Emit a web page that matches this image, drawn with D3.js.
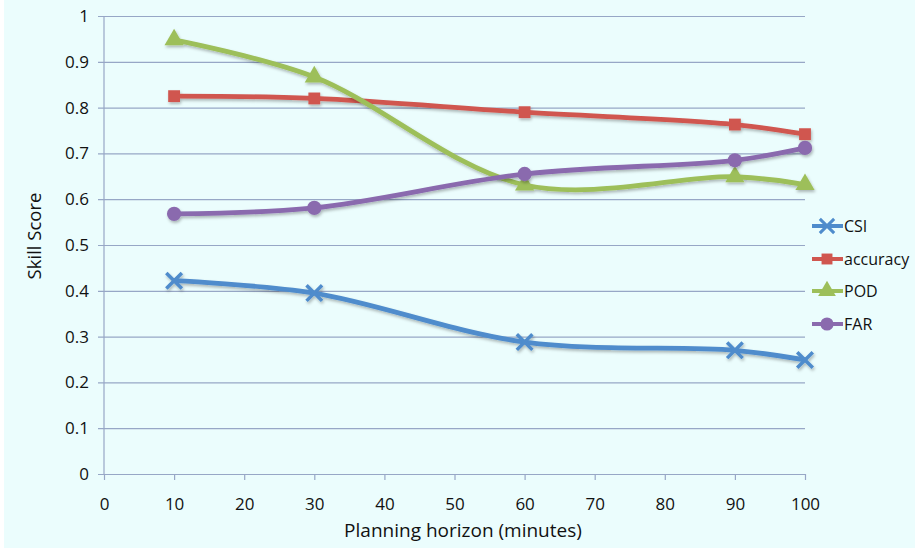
<!DOCTYPE html>
<html>
<head>
<meta charset="utf-8">
<script src="https://cdn.jsdelivr.net/npm/d3@7"></script>
<style>
  html, body { margin: 0; padding: 0; background: #ffffff; }
  svg { display: block; font-family: "Open Sans", Lato, sans-serif; }
</style>
</head>
<body>
<svg id="chart" width="915" height="548"></svg>
<script>
// Planning horizons (minutes) and skill scores per metric
const horizons = [10, 30, 60, 90, 100];
const csi      = [0.422, 0.395, 0.288, 0.270, 0.249];
const accuracy = [0.825, 0.820, 0.790, 0.763, 0.742];
const pod      = [0.948, 0.867, 0.631, 0.649, 0.632];
const far      = [0.568, 0.581, 0.655, 0.685, 0.712];

const xTicks = [0, 10, 20, 30, 40, 50, 60, 70, 80, 90, 100];
const yTicks = [0, 0.1, 0.2, 0.3, 0.4, 0.5, 0.6, 0.7, 0.8, 0.9, 1];

const seriesNames  = ["CSI", "accuracy", "POD", "FAR"];
const seriesValues = [csi, accuracy, pod, far];
const seriesColors = ["#4f8ccc", "#d0564f", "#9dbf5a", "#8a6aae"];
const seriesSymbols = [d3.symbolX, d3.symbolSquare, d3.symbolTriangle, d3.symbolCircle];

const svg = d3.select("#chart");
const W = 915, H = 548;

svg.append("rect").attr("x", 4).attr("y", 0).attr("width", W - 4).attr("height", H)
  .attr("fill", "#ebfdfd");

const plotL = 104, plotR = 805, plotT = 16, plotB = 474;
const x = d3.scaleLinear().domain([0, 100]).range([plotL, plotR]);
const y = d3.scaleLinear().domain([0, 1]).range([plotB, plotT]);

const defs = svg.append("defs");
const f = defs.append("filter").attr("id", "shadow")
  .attr("x", "-10%").attr("y", "-10%").attr("width", "120%").attr("height", "130%");
f.append("feDropShadow").attr("dx", 1).attr("dy", 2).attr("stdDeviation", 1.6)
  .attr("flood-color", "#000").attr("flood-opacity", 0.28);

const gridColor = "#97a7c6";

// Horizontal grid lines with outward ticks on the left
const yAxis = d3.axisLeft(y).tickValues(yTicks).tickSize(-(plotR - plotL) - 6)
  .tickFormat(d => d3.format("~g")(d));
const gy = svg.append("g").attr("transform", `translate(${plotL - 6},0)`).call(yAxis);
gy.select(".domain").remove();
gy.selectAll(".tick line").attr("stroke", gridColor).attr("stroke-width", 1.2)
  .attr("x1", 0);
gy.selectAll(".tick text").attr("x", -9).attr("font-size", 17).attr("fill", "#111")
  .attr("font-family", "'Open Sans', sans-serif");

// Vertical axis line
svg.append("line").attr("x1", plotL).attr("x2", plotL).attr("y1", plotT).attr("y2", plotB)
  .attr("stroke", gridColor).attr("stroke-width", 1.2);

// Bottom axis
const xAxis = d3.axisBottom(x).tickValues(xTicks).tickSize(6).tickSizeOuter(0);
const gx = svg.append("g").attr("transform", `translate(0,${plotB})`).call(xAxis);
gx.select(".domain").attr("stroke", gridColor).attr("stroke-width", 1.2);
gx.selectAll(".tick line").attr("stroke", gridColor).attr("stroke-width", 1.2);
gx.selectAll(".tick text").attr("y", 24).attr("font-size", 17).attr("fill", "#111")
  .attr("font-family", "'Open Sans', sans-serif");

// Axis titles
svg.append("text").attr("x", 463).attr("y", 537).attr("text-anchor", "middle")
  .attr("font-size", 19).attr("fill", "#111").text("Planning horizon (minutes)");
svg.append("text").attr("transform", "translate(41,236) rotate(-90)")
  .attr("text-anchor", "middle").attr("font-size", 18.5).attr("fill", "#111").text("Skill Score");

// Series
const line = d3.line().x(d => x(d[0])).y(d => y(d[1])).curve(d3.curveCatmullRom.alpha(0.5));
const symSize = [160, 140, 160, 160];

seriesValues.forEach((vals, i) => {
  const pts = horizons.map((h, j) => [h, vals[j]]);
  const g = svg.append("g").attr("filter", "url(#shadow)");
  g.append("path").datum(pts).attr("d", line).attr("fill", "none")
    .attr("stroke", seriesColors[i]).attr("stroke-width", 4.8).attr("stroke-linecap", "round");
  const sym = d3.symbol().type(seriesSymbols[i]).size(symSize[i]);
  g.selectAll("path.m").data(pts).join("path").attr("class", "m")
    .attr("transform", d => `translate(${x(d[0])},${y(d[1])})`)
    .attr("d", sym())
    .attr("fill", seriesColors[i])
    .attr("stroke", i === 0 ? seriesColors[i] : "none")
    .attr("stroke-width", i === 0 ? 3.5 : 0);
});

// Legend
const legendY = [226, 259, 291, 324];
seriesNames.forEach((name, i) => {
  const g = svg.append("g").attr("transform", `translate(812,${legendY[i]})`);
  g.append("line").attr("x1", 0).attr("x2", 31).attr("y1", 0).attr("y2", 0)
    .attr("stroke", seriesColors[i]).attr("stroke-width", 4);
  g.append("path").attr("transform", "translate(15,0)")
    .attr("d", d3.symbol().type(seriesSymbols[i]).size(symSize[i] * 0.85)())
    .attr("fill", seriesColors[i])
    .attr("stroke", i === 0 ? seriesColors[i] : "none")
    .attr("stroke-width", i === 0 ? 3 : 0);
  g.append("text").attr("x", 32).attr("y", 6).attr("font-size", 16).attr("fill", "#111")
    .text(name);
});
</script>
</body>
</html>
